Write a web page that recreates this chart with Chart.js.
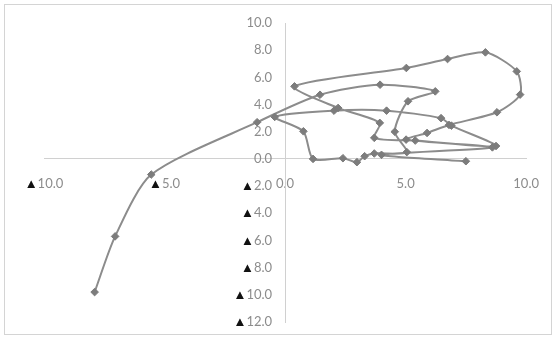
<!DOCTYPE html>
<html><head><meta charset="utf-8">
<script src="https://cdn.jsdelivr.net/npm/chart.js@4.4.1/dist/chart.umd.min.js"></script>
<style>html,body{margin:0;padding:0;background:#fff}#wrap{width:556px;height:338px;position:relative}</style>
</head><body><div id="wrap"><canvas id="c" width="556" height="338"></canvas></div>
<script>
const xValues = [-7.9,-7.05,-5.55,-1.16,1.45,3.94,6.23,5.1,4.55,5.05,3.7,3.3,2.98,2.4,1.16,0.76,-0.43,2.03,4.21,6.47,6.9,8.75,5.4,3.7,3.93,2.2,0.39,5.03,6.74,8.31,9.61,9.75,8.79,6.8,5.89,5.02,8.6,4.0,7.5];
const yValues = [-9.8,-5.7,-1.15,2.7,4.72,5.46,4.97,4.24,2.0,0.5,0.4,0.2,-0.24,0.05,0.0,2.03,3.09,3.55,3.55,3.0,2.45,0.95,1.35,1.55,2.65,3.75,5.34,6.69,7.35,7.84,6.44,4.73,3.43,2.5,1.91,1.42,0.85,0.3,-0.17];
const xTicks = [-10,-5,0,5,10];
const yTicks = [-12,-10,-8,-6,-4,-2,0,2,4,6,8,10];
const points = xValues.map((x,i)=>({x:x,y:yValues[i]}));
function fmt(v){ return (v<0?'\u25B2':'') + Math.abs(v).toFixed(1); }

const frame = {
  id:'frame',
  beforeDraw(chart){
    const ctx = chart.ctx;
    ctx.save();
    ctx.fillStyle='#fff'; ctx.fillRect(0,0,chart.width,chart.height);
    ctx.strokeStyle='#d4d4d4'; ctx.lineWidth=1;
    ctx.strokeRect(4.5,4.5,547,330);
    ctx.restore();
  },
  afterDraw(chart){
    const ctx = chart.ctx;
    ['x','y'].forEach(id=>{
      const s = chart.scales[id];
      const items = s._labelItems || s.getLabelItems(chart.chartArea);
      items.forEach(it=>{
        const lab = String(it.label);
        if (lab.charAt(0)!=='\u25B2') return;
        const o = it.options;
        ctx.save();
        ctx.translate(o.translation[0], o.translation[1]);
        ctx.font = it.font.string;
        ctx.textBaseline = o.textBaseline;
        const w = ctx.measureText(lab).width;
        const sx = o.textAlign==='right' ? -w : (o.textAlign==='center' ? -w/2 : 0);
        ctx.textAlign='left';
        ctx.fillStyle='#111';
        ctx.fillText('\u25B2', sx, it.textOffset);
        ctx.restore();
      });
    });
  }
};

new Chart(document.getElementById('c'), {
  type:'scatter',
  data:{datasets:[{
    data: points,
    showLine:true,
    tension:0.25,
    borderColor:'#8c8c8c',
    borderWidth:2,
    pointStyle:'rectRot',
    pointRadius:3.8,
    pointBackgroundColor:'#7c7c7c',
    pointBorderColor:'#7c7c7c',
    pointBorderWidth:1
  }]},
  options:{
    responsive:false,
    animation:false,
    devicePixelRatio:1,
    layout:{padding:{left:44,right:24,top:23,bottom:16}},
    plugins:{legend:{display:false},tooltip:{enabled:false}},
    scales:{
      x:{
        type:'linear', min:-10, max:10,
        position:{y:0},
        afterBuildTicks:s=>{ s.ticks = xTicks.map(v=>({value:v})); },
        afterFit:s=>{ s.height = 0; },
        grid:{display:false, drawTicks:false},
        border:{display:true,color:'#d0d0d0',width:1},
        ticks:{callback:v=>fmt(v), color:'#8c8c8c', font:{family:'Lato', size:13}, padding:17, maxRotation:0, autoSkip:false}
      },
      y:{
        type:'linear', min:-12, max:10,
        position:{x:0},
        afterBuildTicks:s=>{ s.ticks = yTicks.map(v=>({value:v})); },
        afterFit:s=>{ s.width = 0; },
        grid:{display:false, drawTicks:false},
        border:{display:true,color:'#d0d0d0',width:1},
        ticks:{callback:v=>fmt(v) + '\u2002\u2002', color:'#8c8c8c', font:{family:'Lato', size:13}, padding:6, autoSkip:false}
      }
    }
  },
  plugins:[frame]
});
</script>
</body></html>
